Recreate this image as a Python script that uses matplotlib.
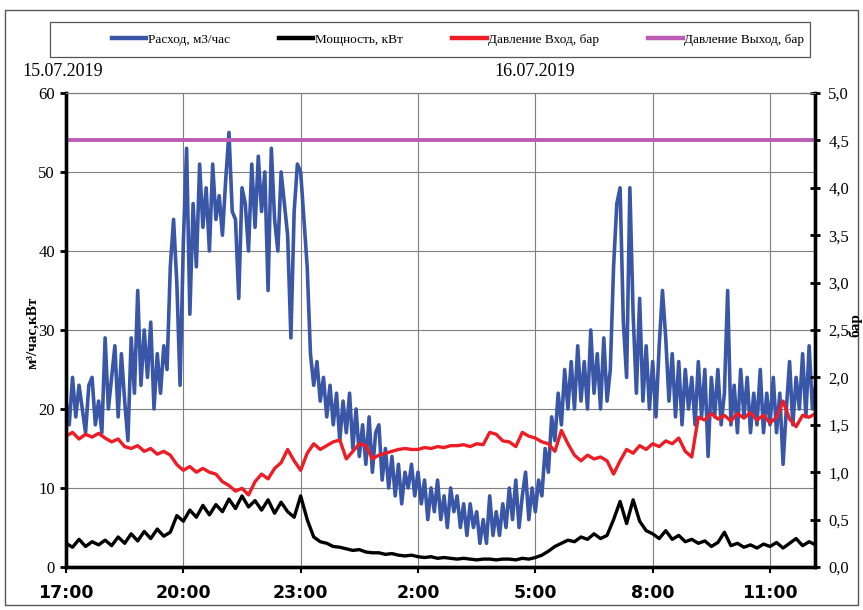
#!/usr/bin/env python3
"""Pump station log: flow, power and pressures, 15-16.07.2019."""

import matplotlib
matplotlib.use("Agg")
import matplotlib.pyplot as plt
import matplotlib.dates as mdates
import pandas as pd
from matplotlib.patches import Rectangle
from matplotlib.ticker import FuncFormatter, MultipleLocator

START = "2019-07-15 17:00"
END = "2019-07-16 12:09"

# Расход, м3/час - 5 min samples from 17:00 (one row = one hour)
flow = [
    21, 18, 24, 19, 23, 20, 17, 23, 24, 18, 21, 17,
    29, 20, 24, 28, 19, 27, 21, 16, 29, 22, 35, 23,
    30, 24, 31, 20, 27, 22, 28, 25, 38, 44, 36, 23,
    41, 53, 32, 46, 38, 51, 43, 48, 40, 51, 44, 47,
    42, 49, 55, 45, 44, 34, 48, 46, 40, 51, 43, 52,
    45, 50, 35, 53, 44, 40, 50, 46, 42, 29, 45, 51,
    50, 44, 38, 27, 23, 26, 21, 24, 19, 23, 18, 22,
    16, 21, 17, 22, 15, 20, 14, 18, 13, 19, 12, 17,
    18, 11, 15, 10, 14, 9, 13, 8, 12, 10, 13, 9,
    12, 8, 11, 6, 10, 7, 11, 6, 9, 5, 10, 7,
    9, 5, 8, 4, 8, 5, 7, 3, 6, 3, 9, 4,
    7, 4, 8, 5, 10, 6, 11, 5, 9, 12, 6, 10,
    7, 11, 9, 15, 12, 19, 16, 22, 18, 25, 20, 26,
    20, 28, 21, 26, 20, 30, 22, 27, 20, 29, 21, 25,
    38, 46, 48, 31, 24, 48, 32, 22, 34, 21, 28, 20,
    26, 19, 28, 35, 29, 21, 27, 19, 26, 18, 25, 20,
    24, 18, 26, 19, 25, 14, 24, 19, 25, 18, 22, 35,
    18, 23, 17, 25, 19, 24, 17, 22, 18, 25, 17, 22,
    18, 24, 17, 22, 13, 20, 26, 18, 24, 20, 27, 19,
    28, 20, 23,
]

# Мощность, кВт - 10 min samples
power = [
    3.0, 2.5, 3.5, 2.6, 3.2, 2.8,
    3.4, 2.7, 3.8, 3.0, 4.2, 3.3,
    4.5, 3.6, 4.8, 3.9, 4.4, 6.5,
    5.8, 7.2, 6.3, 7.8, 6.6, 7.9,
    7.0, 8.6, 7.4, 9.0, 7.6, 8.4,
    7.2, 8.5, 6.8, 8.2, 7.0, 6.3,
    9.0, 6.0, 3.8, 3.2, 3.0, 2.6,
    2.5, 2.3, 2.1, 2.2, 1.9, 1.8,
    1.8, 1.6, 1.7, 1.5, 1.4, 1.5,
    1.3, 1.2, 1.3, 1.1, 1.2, 1.1,
    1.0, 1.1, 1.0, 0.9, 1.0, 1.0,
    0.9, 1.0, 1.0, 0.9, 1.1, 1.0,
    1.2, 1.5, 2.0, 2.6, 3.0, 3.4,
    3.2, 3.8, 3.5, 4.2, 3.6, 4.0,
    6.0, 8.3, 5.5, 8.5, 5.8, 4.6,
    4.2, 3.6, 4.6, 3.5, 4.0, 3.2,
    3.5, 3.0, 3.3, 2.6, 3.1, 4.4,
    2.7, 3.0, 2.5, 2.8, 2.4, 2.9,
    2.6, 3.1, 2.4, 3.0, 3.6, 2.7,
    3.2, 2.8,
]

# Давление Вход, бар - 10 min samples
p_in = [
    1.38, 1.42, 1.35, 1.40, 1.37, 1.41,
    1.36, 1.32, 1.35, 1.27, 1.25, 1.28,
    1.22, 1.25, 1.19, 1.22, 1.18, 1.08,
    1.02, 1.06, 1.00, 1.04, 1.00, 0.98,
    0.90, 0.86, 0.80, 0.83, 0.76, 0.90,
    0.98, 0.93, 1.04, 1.10, 1.24, 1.12,
    1.02, 1.20, 1.30, 1.24, 1.28, 1.32,
    1.34, 1.14, 1.22, 1.30, 1.28, 1.14,
    1.18, 1.20, 1.22, 1.24, 1.25, 1.24,
    1.24, 1.26, 1.25, 1.27, 1.26, 1.28,
    1.28, 1.29, 1.27, 1.30, 1.29, 1.42,
    1.40, 1.33, 1.32, 1.27, 1.42, 1.38,
    1.36, 1.32, 1.30, 1.22, 1.44, 1.30,
    1.18, 1.12, 1.18, 1.14, 1.16, 1.12,
    0.98, 1.12, 1.24, 1.20, 1.28, 1.24,
    1.30, 1.27, 1.33, 1.30, 1.36, 1.22,
    1.16, 1.58, 1.55, 1.62, 1.56, 1.60,
    1.54, 1.62, 1.57, 1.63, 1.55, 1.60,
    1.52, 1.58, 1.75, 1.56, 1.48, 1.60,
    1.58, 1.62,
]

# Давление Выход, бар - constant
p_out = 4.5

labels = ["Расход, м3/час", "Мощность, кВт", "Давление Вход, бар", "Давление Выход, бар"]
colors = ["#3A56A6", "#000000", "#EE1D25", "#BC5CB4"]

SERIF = ["Liberation Serif", "DejaVu Serif"]

t_flow = pd.date_range(START, periods=len(flow), freq="5min")
t_10 = pd.date_range(START, periods=len(power), freq="10min")
t0, t1 = pd.Timestamp(START), pd.Timestamp(END)

W, H = 863, 610
fig = plt.figure(figsize=(W / 100, H / 100), dpi=100)

# outer frame and legend box
fig.patches.append(Rectangle((5 / W, 5 / H), 853 / W, 595 / H, transform=fig.transFigure,
                             fill=False, edgecolor="#555555", linewidth=1.0))
fig.patches.append(Rectangle((50 / W, 1 - 57 / H), 760 / W, 35 / H, transform=fig.transFigure,
                             fill=False, edgecolor="#555555", linewidth=0.9))

ax = fig.add_axes([66 / W, 1 - 567 / H, (815 - 66) / W, (567 - 93) / H])
ax2 = ax.twinx()

h_flow, = ax.plot(t_flow, flow, color=colors[0], linewidth=2.6)
h_pow, = ax.plot(t_10, power, color=colors[1], linewidth=2.4)
h_in, = ax2.plot(t_10, p_in, color=colors[2], linewidth=2.4)
h_out, = ax2.plot([t0, t1], [p_out, p_out], color=colors[3], linewidth=2.8)

ax.set_xlim(t0, t1)
ax.set_ylim(0, 60)
ax2.set_ylim(0, 5)

ax.yaxis.set_major_locator(MultipleLocator(10))
ax2.yaxis.set_major_locator(MultipleLocator(0.5))
ax2.yaxis.set_major_formatter(FuncFormatter(lambda v, pos: f"{v:.1f}".replace(".", ",")))
ax.xaxis.set_major_locator(mdates.HourLocator(byhour=[2, 5, 8, 11, 17, 20, 23]))
ax.xaxis.set_major_formatter(FuncFormatter(lambda x, pos: f"{mdates.num2date(x).hour}:00"))

ax.grid(True, color="#7f7f7f", linewidth=0.8)
ax.set_axisbelow(True)

for a in (ax, ax2):
    a.spines["top"].set_color("#7f7f7f")
    a.spines["top"].set_linewidth(0.8)
    a.spines["left"].set_linewidth(2.4)
    a.spines["right"].set_linewidth(2.4)
    a.spines["bottom"].set_linewidth(2.4)

ax.tick_params(axis="y", direction="out", length=4, width=2, pad=4)
ax2.tick_params(axis="y", direction="inout", length=7, width=2, pad=6)
ax.tick_params(axis="x", direction="out", length=4, width=1.5, pad=8)

for lbl in ax.get_yticklabels() + ax2.get_yticklabels():
    lbl.set_fontfamily(SERIF)
    lbl.set_fontsize(12)
for lbl in ax.get_xticklabels():
    lbl.set_fontfamily("DejaVu Sans")
    lbl.set_fontweight("bold")
    lbl.set_fontsize(12.5)

fig.text(33 / W, 1 - 333 / H, "м³/час,кВт", rotation=90, ha="center", va="center",
         family=SERIF, fontsize=11, fontweight="bold")
fig.text(855 / W, 1 - 325 / H, "бар", rotation=90, ha="center", va="center",
         family=SERIF, fontsize=11, fontweight="bold")

fig.text(63 / W, 1 - 72 / H, "15.07.2019", ha="center", va="center", family=SERIF, fontsize=13)
fig.text(535 / W, 1 - 72 / H, "16.07.2019", ha="center", va="center", family=SERIF, fontsize=13)

leg = fig.legend([h_flow, h_pow, h_in, h_out], labels, ncol=4, mode="expand", loc="center",
                 bbox_to_anchor=(112 / W, 1 - 57 / H, 692 / W, 35 / H),
                 prop={"family": SERIF, "size": 9.5}, frameon=False,
                 handlelength=2.6, handletextpad=0.1, borderaxespad=0.0, borderpad=0.0)
for line in leg.get_lines():
    line.set_linewidth(3.2)

fig.savefig("out.png", dpi=100)
